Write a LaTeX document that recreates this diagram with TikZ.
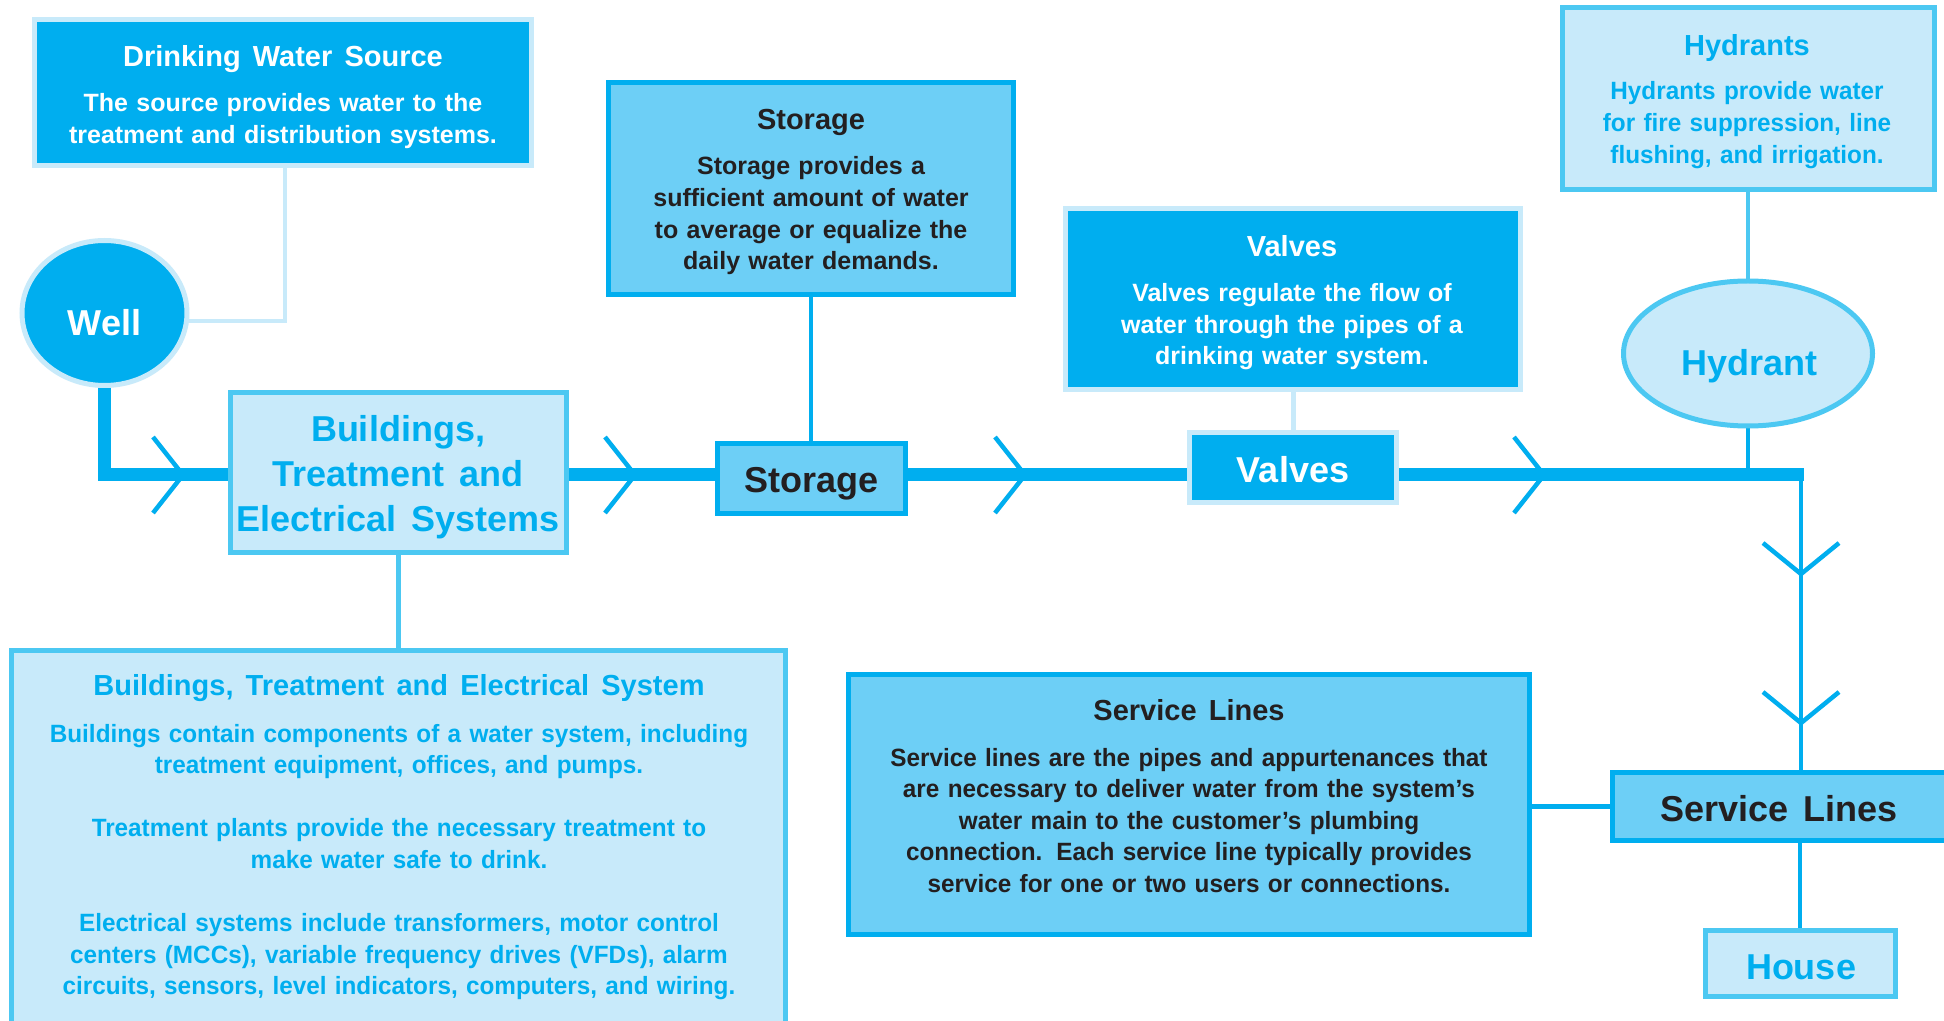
\documentclass[tikz,border=0pt]{standalone}
\usepackage{fontspec}
\setmainfont{Liberation Sans}
\newfontfamily\cnd{Liberation Sans}[FakeStretch=0.972]
\usetikzlibrary{shapes.geometric}
\definecolor{cyanA}{HTML}{00AEEF}
\definecolor{lightA}{HTML}{C8EAFA}
\definecolor{midB}{HTML}{4CC8F2}
\definecolor{medA}{HTML}{6DCFF6}
\definecolor{darkT}{HTML}{231F20}
\newcommand{\wsp}{\spaceskip=0.42em\relax}
\pgfdeclarelayer{bg}
\pgfsetlayers{bg,main}
\begin{document}
\begin{tikzpicture}[x=0.5pt,y=-0.5pt,
  boxA/.style={rectangle, inner sep=0, outer sep=0, line width=2.5pt},
  darkbox/.style={boxA, fill=cyanA, draw=lightA},
  medbox/.style={boxA, fill=medA, draw=cyanA},
  litbox/.style={boxA, fill=lightA, draw=midB},
  ttl/.style={font=\bfseries\fontsize{14.5}{17}\selectfont, anchor=base, inner sep=0},
  bdy/.style={font=\bfseries\fontsize{12.5}{15.8}\selectfont, anchor=base, inner sep=0, align=center},
  bdyc/.style={font=\cnd\bfseries\fontsize{12.5}{15.8}\selectfont, anchor=base, inner sep=0, align=center},
  big/.style={font=\bfseries\fontsize{18}{22.5}\selectfont, anchor=base, inner sep=0, align=center},
  pipe/.style={draw=cyanA, line width=6.5pt},
  chev/.style={draw=cyanA, line width=2.25pt},
  link/.style={line width=2.25pt}]
\useasboundingbox (0,0) rectangle (1944,1021);
\clip (0,0) rectangle (1944,1021);

% boxes and labels
\node[darkbox, minimum width=248.5pt, minimum height=73pt] (dws) at (283,92.5) {};
\node[ttl, text=white] (dwsT) at (283,67) {\wsp Drinking Water Source};
\node[bdy, text=white, text width=245pt] (dwsB) at (283,112) {The source provides water to the\\treatment and distribution systems.};

\node[medbox, minimum width=202.5pt, minimum height=106pt] (stor) at (811,188.5) {};
\node[ttl, text=darkT] (storT) at (811,129.5) {Storage};
\node[bdy, text=darkT, text width=200pt] (storB) at (811,175) {Storage provides a\\sufficient amount of water\\to average or equalize the\\daily water demands.};

\node[medbox, minimum width=94pt, minimum height=35pt] (storS) at (811,478.5) {};
\node[big, text=darkT] (storST) at (811.5,493) {Storage};

\node[darkbox, minimum width=227.5pt, minimum height=90.5pt] (valv) at (1293,299) {};
\node[ttl, text=white] (valvT) at (1292,256.5) {Valves};
\node[bdy, text=white, text width=225pt] (valvB) at (1292,301.5) {Valves regulate the flow of\\water through the pipes of a\\drinking water system.};

\node[darkbox, minimum width=103.5pt, minimum height=35pt] (valvS) at (1293,467.5) {};
\node[big, text=white] (valvST) at (1293,482) {Valves};

\node[litbox, minimum width=186pt, minimum height=91pt] (hyd) at (1748,98.5) {};
\node[ttl, text=cyanA] (hydT) at (1747,55.5) {Hydrants};
\node[bdyc, text=cyanA, text width=183pt] (hydB) at (1747,100) {Hydrants provide water\\for fire suppression, line\\flushing, and irrigation.};

\node[litbox, ellipse, minimum width=124.5pt, minimum height=72.5pt] (hydE) at (1748,353.5) {};
\node[big, text=cyanA] (hydET) at (1749,376) {Hydrant};

\node[darkbox, ellipse, minimum width=82.5pt, minimum height=72.5pt] (well) at (104.5,313) {};
\node[big, text=white] (wellT) at (104.5,335.5) {Well};

\node[litbox, minimum width=168pt, minimum height=80pt] (bld) at (398.5,472.5) {};
\node[big, text=cyanA, text width=168pt] (bldT) at (398,442) {\wsp Buildings,\\Treatment and\\Electrical Systems};

\node[litbox, minimum width=387pt, minimum height=196pt] (bldD) at (398.5,846.5) {};
\node[ttl, text=cyanA] (bldDT) at (399,695.5) {\wsp Buildings, Treatment and Electrical System};
\node[bdyc, text=cyanA, text width=385pt] (bldDB) at (399,742) {Buildings contain components of a water system, including\\treatment equipment, offices, and pumps.\\[15.8pt]Treatment plants provide the necessary treatment to\\make water safe to drink.\\[15.8pt]Electrical systems include transformers, motor control\\centers (MCCs), variable frequency drives (VFDs), alarm\\circuits, sensors, level indicators, computers, and wiring.};

\node[medbox, minimum width=340.5pt, minimum height=130pt] (svc) at (1189,804.5) {};
\node[ttl, text=darkT] (svcT) at (1189,720) {\wsp Service Lines};
\node[bdyc, text=darkT, text width=338pt] (svcB) at (1189,766) {Service lines are the pipes and appurtenances that\\are necessary to deliver water from the system’s\\water main to the customer’s plumbing\\connection.\hspace{7pt}Each service line typically provides\\service for one or two users or connections.};

\node[medbox, minimum width=187.5pt, minimum height=34pt] (svcS) at (1800,806.5) {};
\node[big, text=darkT] (svcST) at (1779,821) {\wsp Service Lines};

\node[litbox, minimum width=95pt, minimum height=33pt] (house) at (1800,963.5) {};
\node[big, text=cyanA] (houseT) at (1801,979.5) {House};

% helper coordinates
\coordinate (wc) at (104.5,475);
\coordinate (mEnd) at (1804,475);
\coordinate (vc) at (1801,475);
\coordinate (dwsBend) at (285,321);
\coordinate (ch1) at (183,475);
\coordinate (ch2) at (635,475);
\coordinate (ch3) at (1025,475);
\coordinate (ch4) at (1544,475);
\coordinate (ch5) at (1801,574);
\coordinate (ch6) at (1801,723);

\begin{pgfonlayer}{bg}
\fill[white] (0,0) rectangle (1944,1021);
\draw[link, draw=lightA] (dwsBend |- dws.south) -- (dwsBend) -- (dwsBend -| well.east);
\draw[link, draw=cyanA] (stor.south) -- (stor.south |- storS.north);
\draw[link, draw=lightA, line width=2.5pt] (valv.south) -- (valv.south |- valvS.north);
\draw[link, draw=midB] (hyd.south) -- (hyd.south |- hydE.north);
\draw[link, draw=cyanA] (hydE.south) -- (hydE.south |- mEnd);
\draw[link, draw=midB, line width=2.5pt] (bld.south) -- (bld.south |- bldD.north);
\draw[link, draw=cyanA, line width=2.5pt] (svcS.west -| svc.east) -- (svcS.west);
\draw[link, draw=cyanA] (svcS.south) -- (svcS.south |- house.north);
\draw[link, draw=cyanA] (vc) -- (vc |- svcS.north);
\draw[pipe] (well.south) -- (wc) -- (wc -| bld.west);
\draw[pipe] (bld.east |- wc) -- (storS.west |- wc);
\draw[pipe] (storS.east |- wc) -- (valvS.west |- wc);
\draw[pipe] (valvS.east |- wc) -- (mEnd);
\end{pgfonlayer}

% flow chevrons
\draw[chev] (ch1) ++(-30,-38) -- (ch1) -- ++(-30,38);
\draw[chev] (ch2) ++(-30,-38) -- (ch2) -- ++(-30,38);
\draw[chev] (ch3) ++(-30,-38) -- (ch3) -- ++(-30,38);
\draw[chev] (ch4) ++(-30,-38) -- (ch4) -- ++(-30,38);
\draw[chev] (ch5) ++(-38,-31) -- (ch5) -- ++(38,-31);
\draw[chev] (ch6) ++(-38,-31) -- (ch6) -- ++(38,-31);
\end{tikzpicture}
\end{document}
